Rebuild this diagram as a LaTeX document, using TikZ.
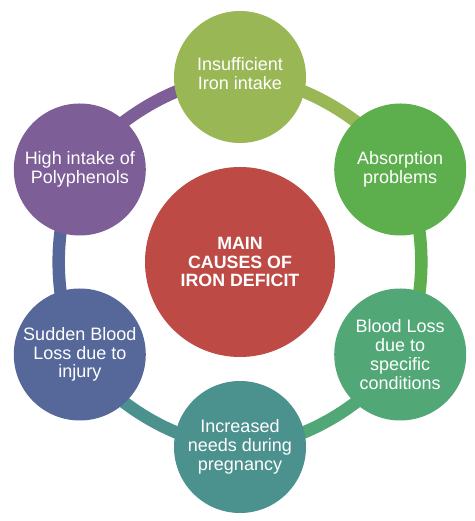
\documentclass[tikz,border=0pt]{standalone}
\usepackage{fontspec}
\setmainfont{Liberation Sans}
\usepackage{tikz}
\usetikzlibrary{positioning, backgrounds}

\definecolor{mainred}{HTML}{BE4A45}
\definecolor{olivegreen}{HTML}{9AB755}
\definecolor{leafgreen}{HTML}{5DAE4D}
\definecolor{seagreen}{HTML}{52A776}
\definecolor{tealgreen}{HTML}{4B928F}
\definecolor{slateblue}{HTML}{56689A}
\definecolor{plum}{HTML}{7D5E97}

\begin{document}
\begin{tikzpicture}[x=1pt, y=1pt,
        cause/.style={circle, minimum size=132pt, inner sep=0pt, text=white, align=center,
            font=\fontsize{18}{18.8}\selectfont},
        ring/.style={line width=12.5pt, bend left=30, looseness=0.78}]
        \useasboundingbox (0,0) rectangle (474,521);

        % Central circle
        \node[cause, fill=mainred, minimum size=190pt, font=\bfseries\fontsize{17.8}{18.5}\selectfont]
            (main) at (240,259) {MAIN\\CAUSES OF\\IRON DEFICIT};

        % Outer circles, clockwise from the top
        \node[cause, fill=olivegreen] (intake) at ([shift={(90:185pt)}]main.center) {Insufficient\\Iron intake\\[-11pt]};
        \node[cause, fill=leafgreen] (absorb) at ([shift={(30:185pt)}]main.center) {Absorption\\problems};
        \node[cause, fill=seagreen] (cond) at ([shift={(-30:185pt)}]main.center) {Blood Loss\\due to\\specific\\conditions};
        \node[cause, fill=tealgreen] (preg) at ([shift={(-90:185pt)}]main.center) {Increased\\needs during\\pregnancy};
        \node[cause, fill=slateblue] (injury) at ([shift={(-150:185pt)}]main.center) {Sudden Blood\\Loss due to\\injury};
        \node[cause, fill=plum] (poly) at ([shift={(150:185pt)}]main.center) {High intake of\\Polyphenols};

        % Ring behind the circles
        \begin{scope}[on background layer]
            \draw[ring, olivegreen] (intake.center) to (absorb.center);
            \draw[ring, leafgreen] (absorb.center) to (cond.center);
            \draw[ring, seagreen] (cond.center) to (preg.center);
            \draw[ring, tealgreen] (preg.center) to (injury.center);
            \draw[ring, slateblue] (injury.center) to (poly.center);
            \draw[ring, plum] (poly.center) to (intake.center);
        \end{scope}
    \end{tikzpicture}
\end{document}
